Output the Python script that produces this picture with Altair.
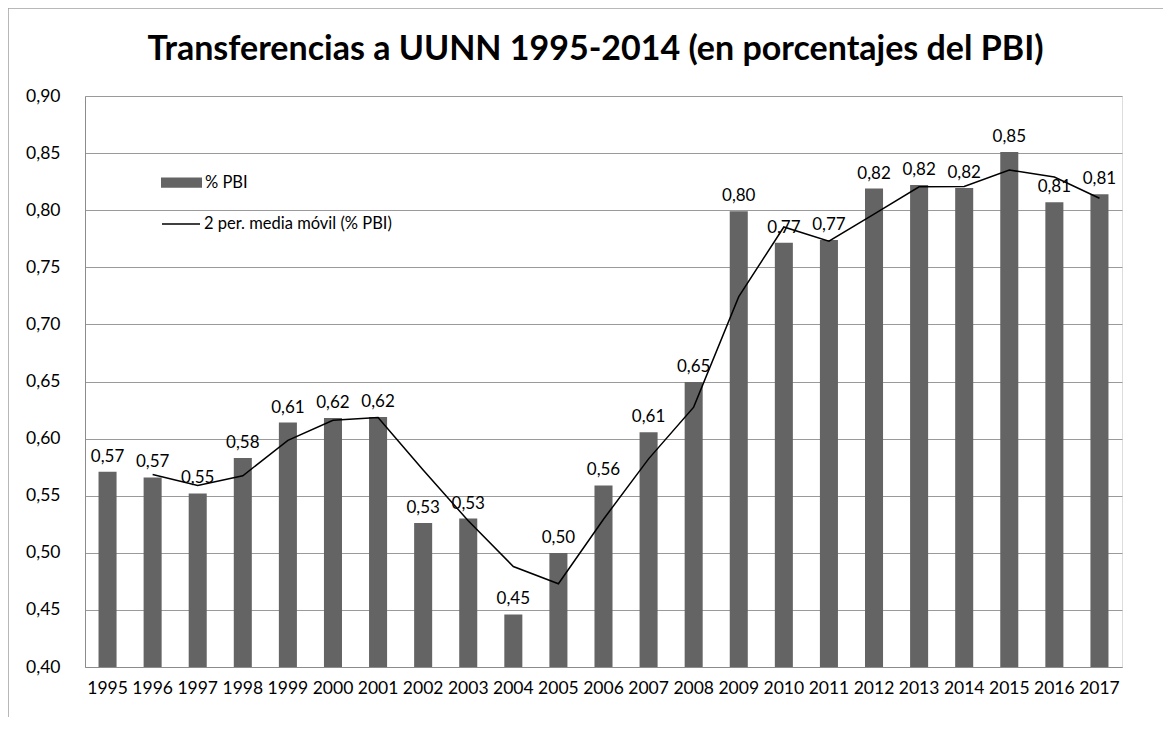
import altair as alt
import pandas as pd

years = [str(y) for y in range(1995, 2018)]
pbi = [0.571, 0.566, 0.552, 0.583, 0.614, 0.618, 0.619, 0.526, 0.530, 0.446,
       0.4998, 0.559, 0.6055, 0.6496, 0.799, 0.7716, 0.774, 0.819, 0.822, 0.8194,
       0.851, 0.807, 0.814]
series_bar = "% PBI"
series_line = "2 per. media móvil (% PBI)"
y_ticks = [0.40, 0.45, 0.50, 0.55, 0.60, 0.65, 0.70, 0.75, 0.80, 0.85, 0.90]
title_text = "Transferencias a UUNN 1995-2014 (en porcentajes del PBI)"

FONT = "Lato"
FS = 17.5
df = pd.DataFrame({"year": years, "pbi": pbi})

W, H = 1037, 571

x = alt.X("year:O", title=None,
          scale=alt.Scale(paddingInner=0.6, paddingOuter=0.3),
          axis=alt.Axis(labelAngle=0, ticks=False, labelPadding=12, domainColor="#8c8c8c",
                        labelFontSize=FS, labelFont=FONT, labelColor="#000000"))
y_scale = alt.Scale(domain=[0.4, 0.9], nice=False, zero=False)

base = alt.Chart(df)

bars = base.transform_calculate(serie=f"'{series_bar}'").mark_bar(color="#646464").encode(
    x=x,
    y=alt.Y("pbi:Q", title=None, scale=y_scale,
            axis=alt.Axis(values=y_ticks, labelExpr="replace(format(datum.value, '.2f'), '.', ',')",
                          ticks=False, labelPadding=25, domainColor="#8c8c8c",
                          gridColor="#9a9a9a", labelFontSize=FS, labelFont=FONT, labelColor="#000000")),
    y2=alt.datum(0.4),
    color=alt.Color("serie:N", scale=alt.Scale(domain=[series_bar], range=["#646464"]),
                    legend=alt.Legend(title=None, orient="none", legendX=76, legendY=66,
                                      symbolType="M-1,-0.25H1V0.25H-1Z", symbolSize=1681,
                                      symbolStrokeWidth=0, symbolOpacity=1, labelLimit=0,
                                      labelFontSize=16.5, labelFont=FONT, labelColor="#000000",
                                      labelOffset=3)),
)

labels = base.transform_calculate(lbl="replace(format(datum.pbi, '.2f'), '.', ',')").mark_text(
    baseline="bottom", dy=-6, fontSize=17, font=FONT, color="#000000"
).encode(x=x, y=alt.Y("pbi:Q", scale=y_scale), text="lbl:N")

line = base.transform_window(
    ma="mean(pbi)", rn="row_number()", frame=[-1, 0], sort=[alt.SortField("year")]
).transform_filter("datum.rn > 1").transform_calculate(serie=f"'{series_line}'").mark_line(
    strokeWidth=1.5
).encode(
    x=x,
    y=alt.Y("ma:Q", scale=y_scale),
    stroke=alt.Stroke("serie:N", scale=alt.Scale(domain=[series_line], range=["#000000"]),
                      legend=alt.Legend(title=None, orient="none", legendX=76, legendY=108,
                                        symbolType="stroke", symbolSize=1444, symbolStrokeWidth=1.5,
                                        labelLimit=0,
                                        labelFontSize=16.5, labelFont=FONT, labelColor="#000000",
                                        labelOffset=3)),
)

frame_df = pd.DataFrame({"k": [0]})
top_border = alt.Chart(frame_df).mark_rule(color="#a0a0a0", strokeWidth=1.5).encode(
    x=alt.value(-77.5), x2=alt.value(1171 - 85), y=alt.value(-88))
left_border = alt.Chart(frame_df).mark_rule(color="#a0a0a0", strokeWidth=1.5).encode(
    x=alt.value(-77), y=alt.value(-88), y2=alt.value(730 - 96))

chart = alt.layer(bars, line, labels, top_border, left_border).properties(
    width=W, height=H,
    title=alt.TitleParams(title_text, font=FONT, fontSize=34, fontWeight="bold",
                          color="#000000", anchor="middle", offset=26, dx=-8, dy=86),
    autosize=alt.AutoSizeParams(type="none"),
    padding={"left": 77, "top": 88, "right": 41, "bottom": 50},
).resolve_scale(color="independent").configure_view(stroke=None).configure(background="white")

chart.save("out.html", embed_options={"renderer": "svg", "actions": False})
